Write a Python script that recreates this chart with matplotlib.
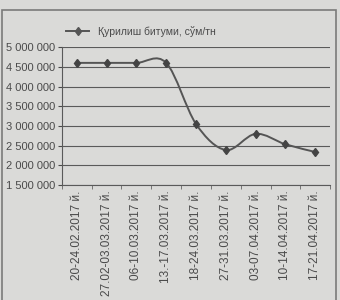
import matplotlib.pyplot as plt
from matplotlib.path import Path
from matplotlib.patches import PathPatch, Rectangle
from matplotlib.lines import Line2D
from matplotlib.ticker import FuncFormatter, MultipleLocator
import numpy as np

# narxlar, so'm/tn
sanalar = ['20-24.02.2017 й.', '27.02-03.03.2017 й.', '06-10.03.2017 й.',
           '13.-17.03.2017 й.', '18-24.03.2017 й.', '27-31.03.2017 й.',
           '03-07.04.2017 й.', '10-14.04.2017 й.', '17-21.04.2017 й.']
narx = [4600000, 4600000, 4600000, 4600000, 3050000, 2390000, 2800000, 2535000, 2340000]
seriya = 'Қурилиш битуми, сўм/тн'

bg = '#dadad8'
ink = '#4a4a4a'
plt.rcParams['font.family'] = ['Liberation Sans', 'DejaVu Sans']

fig = plt.figure(figsize=(3.4, 3.0), dpi=100, facecolor=bg)
ax = fig.add_axes([0.182, 0.383, 0.789, 0.46], facecolor=bg)

x = np.arange(len(narx))
y = np.array(narx, dtype=float)

# silliq chiziq (Excel uslubida, Bezier)
P = np.column_stack([x, y])
verts = [P[0]]
codes = [Path.MOVETO]
n = len(P)
for i in range(n - 1):
    p0 = P[i - 1] if i > 0 else P[i]
    p3 = P[i + 2] if i + 2 < n else P[i + 1]
    c1 = P[i] + (P[i + 1] - p0) / 6
    c2 = P[i + 1] - (p3 - P[i]) / 6
    verts += [c1, c2, P[i + 1]]
    codes += [Path.CURVE4] * 3
ax.add_patch(PathPatch(Path(verts, codes), facecolor='none', edgecolor='#555555', lw=1.4, zorder=3))
ax.plot(x, y, ls='none', marker='d', ms=4.5, color='#444444', zorder=4)

ax.set_xlim(-0.5, len(narx) - 0.5)
ax.set_ylim(1500000, 5000000)
ax.yaxis.set_major_locator(MultipleLocator(500000))
ax.yaxis.set_major_formatter(FuncFormatter(lambda v, p: '{:,.0f}'.format(v).replace(',', ' ')))
ax.grid(axis='y', color='#5a5a5a', lw=0.8)
ax.set_axisbelow(True)

ax.set_xticks(x)
ax.set_xticklabels(sanalar, rotation=90, fontsize=8.5, color=ink)
ax.set_xticks(np.arange(-0.5, len(narx), 1), minor=True)
ax.tick_params(axis='x', which='major', length=0, pad=4)
ax.tick_params(axis='x', which='minor', length=3, color='#666666')
ax.tick_params(axis='y', labelsize=8, colors=ink, length=3, pad=2)
for s in ['top', 'right']:
    ax.spines[s].set_visible(False)
for s in ['left', 'bottom']:
    ax.spines[s].set_color('#5a5a5a')

h = Line2D([], [], color='#555555', lw=1.4, marker='d', ms=4.5)
fig.legend([h], [seriya], loc='upper left', bbox_to_anchor=(0.168, 0.945),
           frameon=False, fontsize=7.5, handlelength=2.2, labelcolor=ink)

fig.patches.append(Rectangle((0.006, -0.05), 0.982, 1.017, transform=fig.transFigure,
                             fill=False, edgecolor='#7a7a7a', lw=1.2))

fig.savefig('out.png', dpi=100, facecolor=bg)
